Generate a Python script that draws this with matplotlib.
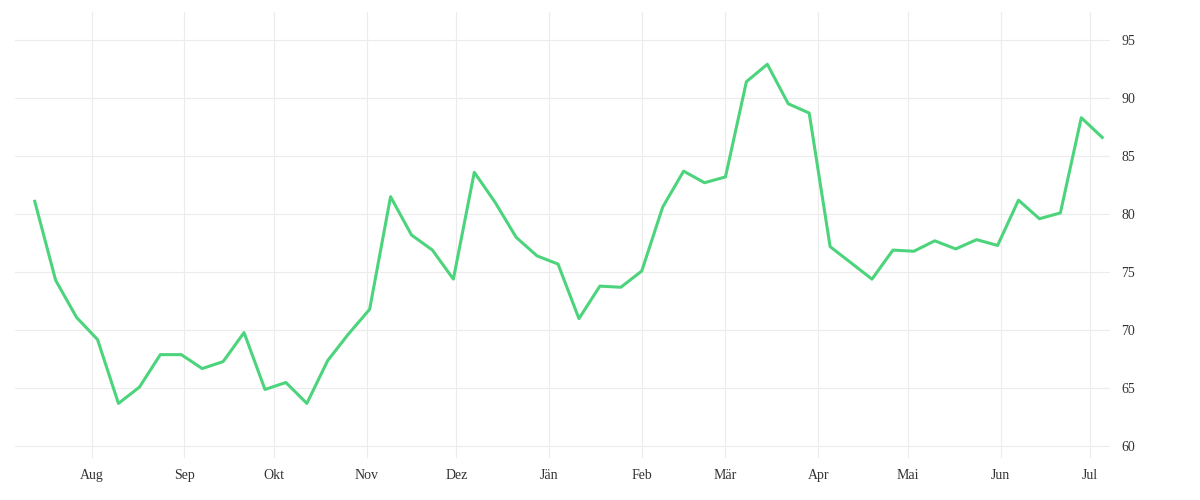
import matplotlib
matplotlib.use("Agg")
import matplotlib.pyplot as plt
import matplotlib.dates as mdates
import pandas as pd

start = "2022-07-13"
values = [81.1, 74.3, 71.1, 69.2, 63.7, 65.1, 67.9, 67.9, 66.7, 67.3, 69.8, 64.9, 65.5,
          63.7, 67.4, 69.7, 71.8, 81.5, 78.2, 76.9, 74.4, 83.6, 81.0, 78.0, 76.4, 75.7,
          71.0, 73.8, 73.7, 75.1, 80.6, 83.7, 82.7, 83.2, 91.4, 92.9, 89.5, 88.7, 77.2,
          75.8, 74.4, 76.9, 76.8, 77.7, 77.0, 77.8, 77.3, 81.2, 79.6, 80.1, 88.3, 86.6]
month_labels = ["Aug", "Sep", "Okt", "Nov", "Dez", "Jän", "Feb", "Mär", "Apr", "Mai", "Jun", "Jul"]
yticks = [60, 65, 70, 75, 80, 85, 90, 95]

dates = pd.date_range(start, periods=len(values), freq="7D")
month_ticks = pd.date_range("2022-08-01", periods=12, freq="MS")

fig = plt.figure(figsize=(12, 5), dpi=100)
ax = fig.add_axes([15/1200, 42/500, 1095/1200, 446/500])
ax.plot(dates, values, color="#4cd47c", lw=2.2)
ax.set_xlim(dates[0] - pd.Timedelta(days=6.6), dates[-1] + pd.Timedelta(days=2.6))
ax.set_ylim(59.0, 97.4)
ax.set_xticks(month_ticks)
ax.set_xticklabels(month_labels)
ax.set_yticks(yticks)
ax.yaxis.tick_right()
for s in ax.spines.values():
    s.set_visible(False)
ax.grid(True, color="#ececec", lw=0.8)
ax.tick_params(length=0, labelsize=10, colors="#333333", pad=8)
for t in ax.get_xticklabels() + ax.get_yticklabels():
    t.set_family(["Liberation Serif", "DejaVu Serif"])
fig.savefig("out.png", dpi=100)
